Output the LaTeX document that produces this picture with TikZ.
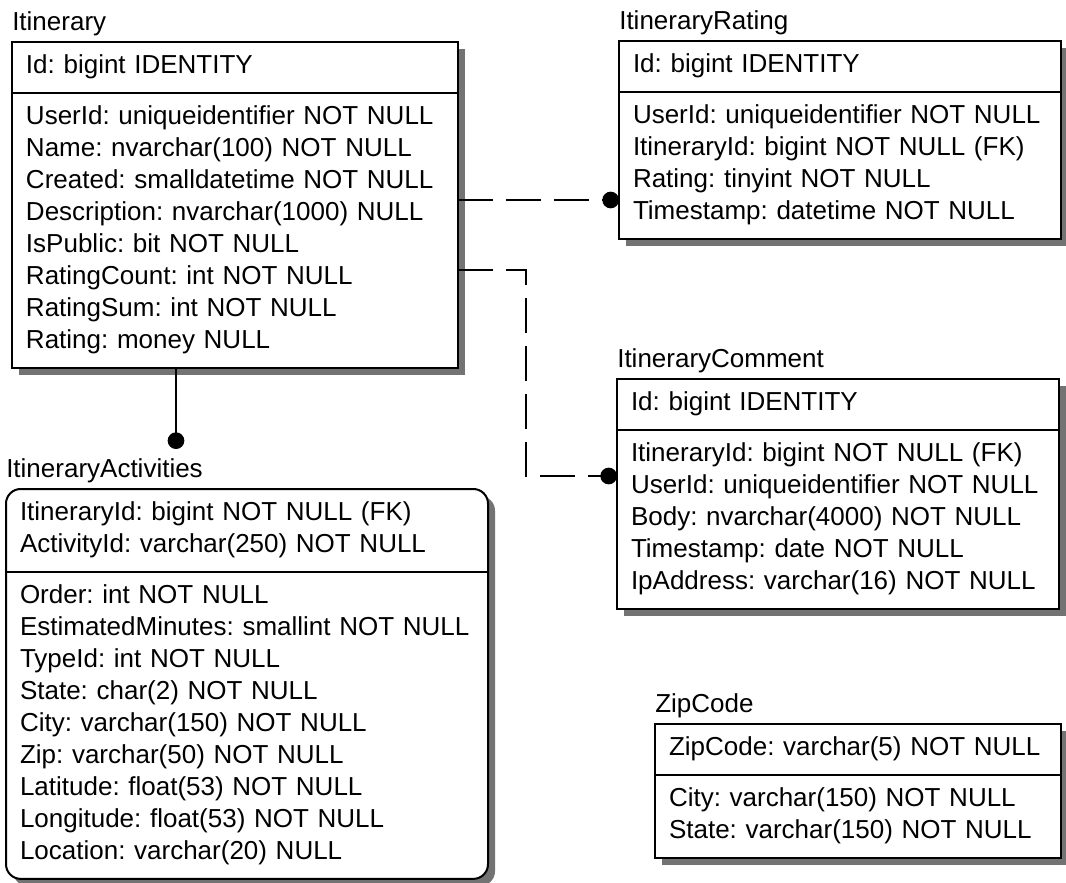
\documentclass[tikz,border=0pt]{standalone}
\usepackage{fontspec}
\setmainfont{Liberation Sans}
\usetikzlibrary{positioning,fit,backgrounds,shadows,arrows.meta}
\frenchspacing

\begin{document}
\begin{tikzpicture}[
    x=0.75pt, y=-0.75pt,
    font=\fontsize{19.5pt}{24pt}\selectfont,
    boxshadow/.style={drop shadow={shadow xshift=5.25pt, shadow yshift=-5.25pt, fill=black!55, opacity=1}},
    cols/.style={rectangle, outer sep=0pt, inner xsep=10.5pt, inner ysep=7.1pt, text width=#1, align=left,
        execute at begin node=\strut, execute at end node=\strut},
    tbl/.style={cols=#1, draw, line width=1.5pt, fill=white, boxshadow},
    title/.style={anchor=base west, inner sep=0pt},
    rel/.style={line width=1.2pt, dash pattern=on 26pt off 10pt, -{Circle[length=12.5pt]}},
    fk/.style={line width=1.2pt, -{Circle[length=12.5pt]}}
]
\useasboundingbox (0,0) rectangle (1066,882);

% Itinerary
\node[tbl=313.5pt, anchor=north west] (ithdr) at (12,42) {Id: bigint IDENTITY};
\node[tbl=313.5pt, below=0pt of ithdr] (itbody) {UserId: uniqueidentifier NOT NULL\\
    Name: nvarchar(100) NOT NULL\\
    Created: smalldatetime NOT NULL\\
    Description: nvarchar(1000) NULL\\
    IsPublic: bit NOT NULL\\
    RatingCount: int NOT NULL\\
    RatingSum: int NOT NULL\\
    Rating: money NULL};
\node[title] (ittitle) at ([yshift=8.5pt]ithdr.north west) {Itinerary};

% ItineraryRating
\node[tbl=310.5pt, anchor=north west] (rthdr) at (619,41) {Id: bigint IDENTITY};
\node[tbl=310.5pt, below=0pt of rthdr] (rtbody) {UserId: uniqueidentifier NOT NULL\\
    ItineraryId: bigint NOT NULL (FK)\\
    Rating: tinyint NOT NULL\\
    Timestamp: datetime NOT NULL};
\node[title] (rttitle) at ([yshift=9pt]rthdr.north west) {ItineraryRating};

% ItineraryComment
\node[tbl=310.5pt, anchor=north west] (cmhdr) at (617,379) {Id: bigint IDENTITY};
\node[tbl=310.5pt, below=0pt of cmhdr] (cmbody) {ItineraryId: bigint NOT NULL (FK)\\
    UserId: uniqueidentifier NOT NULL\\
    Body: nvarchar(4000) NOT NULL\\
    Timestamp: date NOT NULL\\
    IpAddress: varchar(16) NOT NULL};
\node[title] (cmtitle) at ([yshift=9pt]cmhdr.north west) {ItineraryComment};

% ZipCode
\node[tbl=283.5pt, anchor=north west] (ziphdr) at (655,724) {ZipCode: varchar(5) NOT NULL};
\node[tbl=283.5pt, below=0pt of ziphdr] (zipbody) {City: varchar(150) NOT NULL\\
    State: varchar(150) NOT NULL};
\node[title] (ziptitle) at ([yshift=8.5pt]ziphdr.north west) {ZipCode};

% ItineraryActivities (rounded)
\node[cols=340.5pt, anchor=north west] (acthdr) at (6,489) {ItineraryId: bigint NOT NULL (FK)\\
    ActivityId: varchar(250) NOT NULL};
\node[cols=340.5pt, below=0pt of acthdr] (actbody) {Order: int NOT NULL\\
    EstimatedMinutes: smallint NOT NULL\\
    TypeId: int NOT NULL\\
    State: char(2) NOT NULL\\
    City: varchar(150) NOT NULL\\
    Zip: varchar(50) NOT NULL\\
    Latitude: float(53) NOT NULL\\
    Longitude: float(53) NOT NULL\\
    Location: varchar(20) NULL};
\begin{scope}[on background layer]
\node[fit=(acthdr)(actbody), inner sep=0pt, draw, line width=1.5pt, fill=white, rounded corners=11pt, boxshadow] (act) {};
\end{scope}
\draw[line width=1.5pt] (acthdr.south west) -- (acthdr.south east);
\node[title] (acttitle) at ([yshift=9pt]acthdr.north west) {ItineraryActivities};

% relationships
\coordinate (actdot) at (176,449);
\draw[rel] (itbody.east |- 0,200) -- (rtbody.west |- 0,200);
\draw[rel] (itbody.east |- 0,270) -| (526,476) -- (cmbody.west |- 0,476);
\draw[fk] (itbody.south -| actdot) -- (actdot);
\end{tikzpicture}
\end{document}
